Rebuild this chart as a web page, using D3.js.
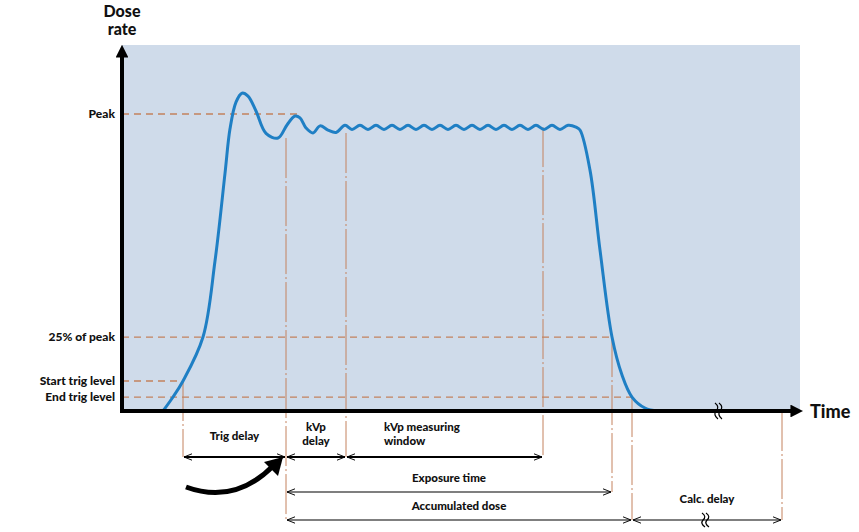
<!DOCTYPE html><html><head><meta charset="utf-8">
<script src="https://cdn.jsdelivr.net/npm/d3@7"></script>
<style>body{margin:0;background:#fff}text{font-family:Lato,"Open Sans",sans-serif;font-weight:900;fill:#111}</style>
</head><body><svg id="c" width="859" height="532"></svg>
<script>
// time (arbitrary units) and dose rate (% of peak)
const curveTime = [41,51,61,81,93,103,108,114,120,126,134,144,156,165,173,178,184,191,198,206,214,223,230,238,246,254,262,270,278,286,294,302,310,318,326,334,342,350,358,366,374,382,390,398,406,414,422,430,438,446,454,458,468,478,490,500,510,523,536];
const curveDose = [0,4.7,10.1,24.9,50.5,80,95,104,107,106,101,93.5,91.9,96.3,99.3,98.7,95.3,93.6,96,94.6,93.8,96.2,94.8,96.2,94.8,96.2,94.8,96.2,94.8,96.2,94.8,96.2,94.8,96.2,94.8,96.2,94.8,96.2,94.8,96.2,94.8,96.2,94.8,96.2,94.8,96.2,94.8,96.2,94.8,96.2,95.6,94.6,81.1,54.2,24.9,12.1,4.7,1,0];
const levelLabels = ["Peak","25% of peak","Start trig level","End trig level"];
const levelValues = [100,24.9,10.1,4.7];
const levelEnds = [178,490,61,510];
const markerTimes = [61,164,224,421,490,510,660];
const markerTops = [10.1,91.9,93.6,95.6,24.9,4.7,0];
const markerBottoms = [457,520,457,457,492,520,520];
const spanStart = [61,164,224,164,164,510];
const spanEnd = [164,224,421,490,510,660];
const spanRow = [457,457,457,492,520,520];
const spanLabels = [["Trig delay"],["kVp","delay"],["kVp measuring","window"],["Exposure time"],["Accumulated dose"],["Calc. delay"]];

const svg=d3.select("#c");
const x=d3.scaleLinear().domain([0,678]).range([122,800]);
const y=d3.scaleLinear().domain([0,100]).range([411,114]);
const brown="#c4825e";
svg.append("rect").attr("x",122).attr("y",45).attr("width",678).attr("height",366).attr("fill","#cfdbea");
levelValues.forEach((v,i)=>{
  svg.append("line").attr("x1",x(0)).attr("x2",x(levelEnds[i])).attr("y1",y(v)).attr("y2",y(v))
    .attr("stroke",brown).attr("stroke-width",1.3).attr("stroke-dasharray","7,5");
  svg.append("text").attr("x",115).attr("y",y(v)).attr("dy","0.35em").attr("text-anchor","end").attr("font-size",12).text(levelLabels[i]);
});
markerTimes.forEach((t,i)=>{
  svg.append("line").attr("x1",x(t)).attr("x2",x(t)).attr("y1",y(markerTops[i])).attr("y2",markerBottoms[i])
    .attr("stroke",brown).attr("stroke-width",1).attr("stroke-dasharray","40,3,2,3");
});
svg.append("path").datum(curveTime.map((t,i)=>[t,curveDose[i]]))
  .attr("d",d3.line().x(d=>x(d[0])).y(d=>y(d[1])).curve(d3.curveCatmullRom))
  .attr("fill","none").attr("stroke","#1f7fc4").attr("stroke-width",3);
const defs=svg.append("defs");
defs.append("marker").attr("id","ah").attr("viewBox","0 0 10 10").attr("refX",2).attr("refY",5)
  .attr("markerWidth",3.2).attr("markerHeight",3.2).attr("orient","auto").append("path").attr("d","M0,0L10,5L0,10z").attr("fill","#000");
svg.append("line").attr("x1",122).attr("x2",122).attr("y1",413).attr("y2",55).attr("stroke","#000").attr("stroke-width",4).attr("marker-end","url(#ah)");
svg.append("line").attr("x1",120).attr("x2",793).attr("y1",411).attr("y2",411).attr("stroke","#000").attr("stroke-width",4).attr("marker-end","url(#ah)");
svg.append("text").attr("x",122).attr("y",17).attr("text-anchor","middle").attr("font-size",16).text("Dose");
svg.append("text").attr("x",122).attr("y",35).attr("text-anchor","middle").attr("font-size",16).text("rate");
svg.append("text").attr("x",810).attr("y",418).attr("font-size",18).text("Time");
function brk(cx,cy,h){[-2,2].forEach(o=>svg.append("path").attr("d",`M${cx+o-2},${cy-h}Q${cx+o+3},${cy-h/2} ${cx+o-1},${cy}Q${cx+o-4},${cy+h/2} ${cx+o+1},${cy+h}`).attr("fill","none").attr("stroke","#000").attr("stroke-width",1.2));}
brk(x(597),411,8);
const sm=defs.append("marker").attr("id","oa").attr("viewBox","0 0 10 10").attr("refX",10).attr("refY",5)
  .attr("markerWidth",8).attr("markerHeight",8).attr("markerUnits","userSpaceOnUse").attr("orient","auto-start-reverse");
sm.append("path").attr("d","M0,1L10,5L0,9").attr("fill","none").attr("stroke","#000").attr("stroke-width",1.2);
spanStart.forEach((s,i)=>{
  const w = spanRow[i]===457?2.2:1.2;
  svg.append("line").attr("x1",x(s)+1).attr("x2",x(spanEnd[i])-1).attr("y1",spanRow[i]).attr("y2",spanRow[i])
    .attr("stroke","#000").attr("stroke-width",w).attr("marker-start","url(#oa)").attr("marker-end","url(#oa)");
  const lines=spanLabels[i];
  let cx=(x(s)+x(spanEnd[i]))/2, anchor="middle";
  if(i===2){cx=x(s)+38;anchor="start";}
  let baseY = spanRow[i]===457 ? (lines.length===1?440:431) : spanRow[i]-10;
  if(i===5) baseY=503;
  lines.forEach((l,j)=>svg.append("text").attr("x",cx).attr("y",baseY+j*14).attr("text-anchor",anchor).attr("font-size",11.5).text(l));
});
brk(x(584),520,7);
svg.append("path").attr("d","M186,487Q235,505 274,465").attr("fill","none").attr("stroke","#000").attr("stroke-width",5);
svg.append("path").attr("d","M264,462L283,457L278,476z").attr("fill","#000");
</script></body></html>
